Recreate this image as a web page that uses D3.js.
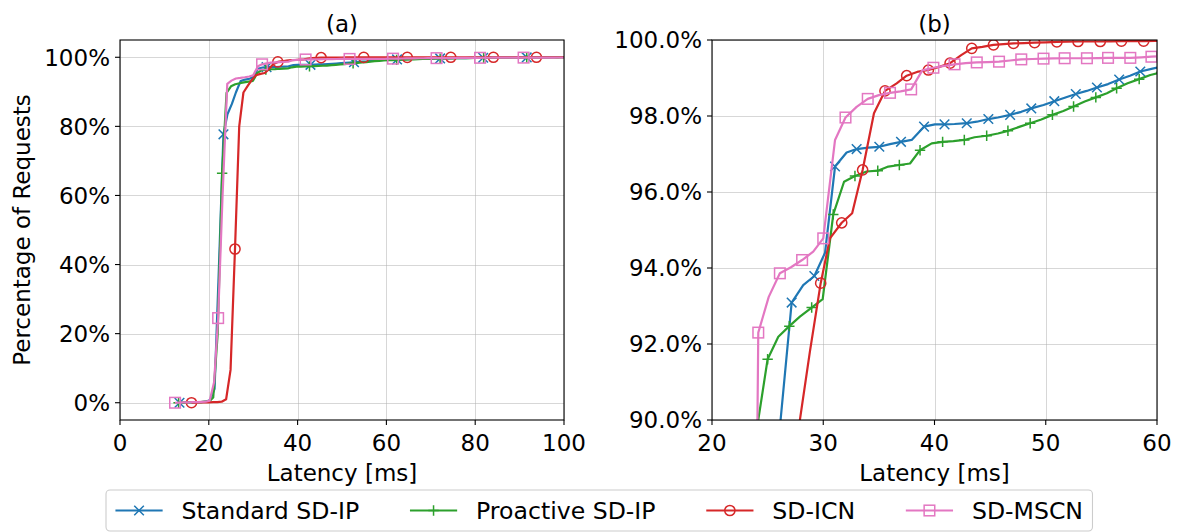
<!DOCTYPE html>
<html>
<head>
<meta charset="utf-8">
<script src="https://cdn.jsdelivr.net/npm/d3@7"></script>
<style>
  body { margin: 0; background: #fff; }
  svg { display: block; font-family: "DejaVu Sans", sans-serif; }
</style>
</head>
<body>
<svg id="chart" width="1178" height="532"></svg>
<script>
// ---- Latency CDF samples (latency in ms, cumulative share of requests in %) ----
const stdLat = [13.4,14.4,15.4,16.4,17.4,18.4,19.3,20.3,21.3,22.3,
  23.3,24.2,25.2,26.1,27.16,28.2,29.2,30.16,31.06,32.1,
  33.0,34.05,35.04,36.0,36.99,37.95,39.06,40.04,40.9,41.8,
  42.9,43.8,44.84,45.7,46.8,47.8,48.7,49.8,50.77,51.7,
  52.7,53.68,54.6,55.6,56.6,57.57,58.5,59.5,60.5,61.4,
  62.4,63.4,64.3,65.3,66.3,67.2,68.2,69.2,70.2,71.1,
  72.1,73.1,74.0,75.0,76.0,76.9,77.9,78.9,79.9,80.8,
  81.8,82.8,83.7,84.7,85.7,86.7,87.6,88.6,89.6,90.6,
  91.6,92.5,93.5,94.5,95.4,96.4,97.4,98.4,99.3,100.3];
const stdPct = [0,0.05,0.1,0.1,0.15,0.2,0.3,0.8,4.0,40.0,
  77.7,83.5,86.5,89.8,93.09,93.55,93.79,94.40,96.67,97.04,
  97.13,97.17,97.19,97.26,97.32,97.37,97.72,97.78,97.78,97.79,
  97.81,97.85,97.92,97.96,98.03,98.11,98.20,98.29,98.39,98.48,
  98.58,98.66,98.75,98.84,98.96,99.06,99.17,99.24,99.30,99.34,
  99.38,99.42,99.45,99.48,99.51,99.54,99.57,99.60,99.62,99.64,
  99.66,99.68,99.70,99.72,99.74,99.76,99.78,99.80,99.82,99.84,
  99.85,99.87,99.88,99.89,99.90,99.91,99.92,99.93,99.94,99.95,
  99.96,99.97,99.98,99.98,99.99,99.99,100,100,100,100];

const proLat = [13.2,14.2,15.2,16.1,17.1,18.1,19.1,20.1,21.0,22.0,
  23.0,24.0,25.0,25.96,26.95,27.9,28.96,29.95,30.9,31.87,
  32.85,33.9,34.9,35.85,36.84,37.8,38.7,39.75,40.73,41.7,
  42.68,43.6,44.69,45.7,46.6,47.68,48.6,49.6,50.6,51.58,
  52.5,53.5,54.5,55.5,56.37,57.36,58.4,59.4,60.4,61.3,
  62.3,63.3,64.3,65.2,66.2,67.2,68.2,69.2,70.1,71.1,
  72.1,73.1,74.0,75.0,76.0,77.0,77.9,78.9,79.9,80.9,
  81.9,82.8,83.8,84.8,85.8,86.7,87.7,88.7,89.7,90.6,
  91.6,92.6,93.6,94.6,95.5,96.5,97.5,98.5,99.4,100.4];
const proPct = [0,0.05,0.1,0.1,0.15,0.2,0.3,0.4,1.5,20.0,
  66.4,89.7,91.6,92.19,92.47,92.72,92.96,93.18,95.41,96.27,
  96.42,96.54,96.56,96.67,96.71,96.75,97.10,97.28,97.32,97.34,
  97.37,97.44,97.48,97.54,97.61,97.72,97.81,97.91,98.03,98.13,
  98.25,98.38,98.49,98.60,98.73,98.86,98.97,99.08,99.15,99.20,
  99.25,99.30,99.34,99.38,99.42,99.46,99.50,99.53,99.56,99.59,
  99.62,99.65,99.67,99.69,99.71,99.73,99.75,99.77,99.79,99.81,
  99.83,99.85,99.86,99.87,99.88,99.89,99.90,99.91,99.92,99.93,
  99.94,99.95,99.96,99.97,99.98,99.98,99.99,99.99,100,100];

const icnLat = [16.1,17.1,18.0,19.0,20.0,21.0,21.9,22.9,23.9,24.9,
  25.9,26.85,27.8,28.8,29.77,30.6,31.66,32.6,33.54,34.56,
  35.55,36.6,37.5,38.55,39.45,40.5,41.4,42.4,43.35,44.3,
  45.3,46.2,47.1,48.05,49.0,50.0,51.0,51.95,52.9,53.9,
  54.9,55.85,56.8,57.8,58.8,59.8,60.7,61.7,62.7,63.7,
  64.7,65.6,66.6,67.6,68.5,69.5,70.5,71.5,72.5,73.5,
  74.5,75.4,76.4,77.3,78.3,79.3,80.3,81.2,82.2,83.2,
  84.1,85.1,86.1,87.1,88.0,89.0,90.0,90.9,91.9,92.9,
  93.8,94.8,95.8,96.7,97.7,98.7,99.7,100.6];
const icnPct = [0,0.05,0.1,0.1,0.1,0.15,0.2,0.3,1.0,9.5,
  44.5,80.0,89.8,91.8,93.6,94.78,95.19,95.44,96.58,98.07,
  98.66,98.86,99.06,99.17,99.21,99.30,99.39,99.60,99.78,99.82,
  99.87,99.89,99.91,99.92,99.93,99.94,99.95,99.955,99.96,99.96,
  99.96,99.965,99.97,99.97,99.97,99.975,99.98,99.98,99.98,99.985,
  99.985,99.99,99.99,99.99,99.99,99.99,99.995,99.995,99.995,99.995,
  100,100,100,100,100,100,100,100,100,100,
  100,100,100,100,100,100,100,100,100,100,
  100,100,100,100,100,100,100,100];

const mscnLat = [12.4,13.4,14.4,15.3,16.3,17.3,18.3,19.3,20.2,21.2,
  22.1,23.1,24.16,25.1,26.1,27.1,28.1,29.1,30.0,31.06,
  32.0,33.0,34.0,35.0,36.0,36.95,37.9,38.9,39.9,40.85,
  41.8,42.8,43.8,44.8,45.8,46.8,47.8,48.8,49.8,50.7,
  51.7,52.7,53.7,54.7,55.6,56.6,57.6,58.6,59.5,60.5,
  61.5,62.5,63.4,64.4,65.4,66.4,67.4,68.3,69.3,70.3,
  71.3,72.3,73.2,74.2,75.2,76.2,77.1,78.1,79.1,80.1,
  81.1,82.0,83.0,84.0,85.0,86.0,86.9,87.9,88.9,89.9,
  90.9,91.9,92.8,93.8,94.8,95.8,96.7,97.7,98.7,99.95];
const mscnPct = [0,0.05,0.1,0.1,0.15,0.2,0.25,0.3,0.6,6.0,
  24.5,60.0,92.30,93.24,93.86,94.02,94.21,94.43,94.78,97.37,
  97.96,98.24,98.45,98.55,98.61,98.65,98.70,99.20,99.27,99.32,
  99.36,99.39,99.41,99.42,99.43,99.46,99.49,99.50,99.51,99.515,
  99.52,99.52,99.52,99.525,99.53,99.53,99.53,99.545,99.56,99.58,
  99.60,99.62,99.64,99.66,99.68,99.70,99.71,99.72,99.73,99.74,
  99.75,99.76,99.77,99.78,99.79,99.80,99.81,99.82,99.83,99.84,
  99.85,99.86,99.86,99.87,99.87,99.88,99.88,99.89,99.89,99.90,
  99.90,99.90,99.91,99.91,99.91,99.92,99.92,99.92,99.93,99.93];

const seriesNames = ["Standard SD-IP", "Proactive SD-IP", "SD-ICN", "SD-MSCN"];

// ---- Axis ticks ----
const xTicksA = [0, 20, 40, 60, 80, 100];
const yTicksA = [0, 20, 40, 60, 80, 100];
const xTicksB = [20, 30, 40, 50, 60];
const yTicksB = [90, 92, 94, 96, 98, 100];
const panelTitles = ["(a)", "(b)"];
const xAxisLabel = "Latency [ms]";
const yAxisLabel = "Percentage of Requests";

// ---- Styling ----
const colors = ["#1f77b4", "#2ca02c", "#d62728", "#e377c2"];
const markers = ["x", "plus", "circle", "square"];
const FS = 23;        // axis text size
const LEG_FS = 23.6;  // legend text size

const series = [
  { lat: stdLat, pct: stdPct },
  { lat: proLat, pct: proPct },
  { lat: icnLat, pct: icnPct },
  { lat: mscnLat, pct: mscnPct }
].map((s, i) => ({
  name: seriesNames[i],
  color: colors[i],
  marker: markers[i],
  points: s.lat.map((v, j) => [v, s.pct[j]])
}));

const svg = d3.select("#chart");

function drawMarker(g, kind, cx, cy, color) {
  if (kind === "circle") {
    g.append("circle").attr("cx", cx).attr("cy", cy).attr("r", 5.1)
      .attr("fill", "none").attr("stroke", color).attr("stroke-width", 1.5);
  } else if (kind === "square") {
    g.append("rect").attr("x", cx - 5.3).attr("y", cy - 5.3).attr("width", 10.6).attr("height", 10.6)
      .attr("fill", "none").attr("stroke", color).attr("stroke-width", 1.5);
  } else if (kind === "x") {
    const r = 4.8;
    g.append("path")
      .attr("d", `M${cx - r},${cy - r}L${cx + r},${cy + r}M${cx - r},${cy + r}L${cx + r},${cy - r}`)
      .attr("stroke", color).attr("stroke-width", 1.5).attr("fill", "none");
  } else if (kind === "plus") {
    const r = 5.2;
    g.append("path")
      .attr("d", `M${cx - r},${cy}H${cx + r}M${cx},${cy - r}V${cy + r}`)
      .attr("stroke", color).attr("stroke-width", 1.5).attr("fill", "none");
  }
}

const panels = [
  { id: "a", title: panelTitles[0], left: 120, right: 564, top: 40, bottom: 420,
    xDomain: [0, 100], yDomain: [-5, 105], xTicks: xTicksA, yTicks: yTicksA,
    yFmt: d => d + "%", markEvery: 10, yLabel: true },
  { id: "b", title: panelTitles[1], left: 712, right: 1157, top: 40, bottom: 420,
    xDomain: [20, 60], yDomain: [90, 100], xTicks: xTicksB, yTicks: yTicksB,
    yFmt: d => d.toFixed(1) + "%", markEvery: 2, yLabel: false }
];

panels.forEach(p => {
  const x = d3.scaleLinear().domain(p.xDomain).range([p.left, p.right]);
  const y = d3.scaleLinear().domain(p.yDomain).range([p.bottom, p.top]);
  const g = svg.append("g");

  g.append("clipPath").attr("id", "clip-" + p.id)
    .append("rect").attr("x", p.left).attr("y", p.top)
    .attr("width", p.right - p.left).attr("height", p.bottom - p.top);

  // grid
  const grid = g.append("g").attr("stroke", "#b0b0b0").attr("stroke-opacity", 0.5).attr("stroke-width", 1);
  p.xTicks.forEach(t => grid.append("line")
    .attr("x1", Math.round(x(t)) + 0.5).attr("x2", Math.round(x(t)) + 0.5)
    .attr("y1", p.top).attr("y2", p.bottom));
  p.yTicks.forEach(t => grid.append("line")
    .attr("y1", Math.round(y(t)) + 0.5).attr("y2", Math.round(y(t)) + 0.5)
    .attr("x1", p.left).attr("x2", p.right));

  // series: line first, then its markers
  const plot = g.append("g").attr("clip-path", `url(#clip-${p.id})`);
  const line = d3.line().x(d => x(d[0])).y(d => y(d[1]));
  series.forEach(s => {
    plot.append("path").datum(s.points).attr("d", line)
      .attr("fill", "none").attr("stroke", s.color).attr("stroke-width", 2.2)
      .attr("stroke-linejoin", "round");
    const mg = plot.append("g");
    s.points.forEach((d, i) => {
      if (i % p.markEvery === 0) drawMarker(mg, s.marker, x(d[0]), y(d[1]), s.color);
    });
  });

  // frame
  g.append("rect").attr("x", p.left).attr("y", p.top)
    .attr("width", p.right - p.left).attr("height", p.bottom - p.top)
    .attr("fill", "none").attr("stroke", "#000").attr("stroke-width", 1.1);

  // x ticks
  const xt = g.append("g");
  p.xTicks.forEach(t => {
    xt.append("line").attr("x1", x(t)).attr("x2", x(t))
      .attr("y1", p.bottom).attr("y2", p.bottom + 5)
      .attr("stroke", "#000").attr("stroke-width", 1.1);
    xt.append("text").attr("x", x(t)).attr("y", 451)
      .attr("text-anchor", "middle").attr("font-size", FS).attr("fill", "#000")
      .text(t);
  });
  // y ticks
  const yt = g.append("g");
  p.yTicks.forEach(t => {
    yt.append("line").attr("x1", p.left - 5).attr("x2", p.left)
      .attr("y1", y(t)).attr("y2", y(t))
      .attr("stroke", "#000").attr("stroke-width", 1.1);
    yt.append("text").attr("x", p.left - 10).attr("y", y(t) + 8.4)
      .attr("text-anchor", "end").attr("font-size", FS).attr("fill", "#000")
      .text(p.yFmt(t));
  });

  // labels
  g.append("text").attr("x", (p.left + p.right) / 2).attr("y", 481)
    .attr("text-anchor", "middle").attr("font-size", FS).text(xAxisLabel);
  g.append("text").attr("x", (p.left + p.right) / 2).attr("y", 31.5)
    .attr("text-anchor", "middle").attr("font-size", FS).text(p.title);
  if (p.yLabel) {
    g.append("text").attr("transform", `translate(29.5,${(p.top + p.bottom) / 2}) rotate(-90)`)
      .attr("text-anchor", "middle").attr("font-size", FS).text(yAxisLabel);
  }
});

// ---- Legend ----
const legLeft = 106, legTop = 490, legH = 41;
const leg = svg.append("g");
const frame = leg.append("rect").attr("x", legLeft).attr("y", legTop)
  .attr("height", legH).attr("rx", 4).attr("ry", 4)
  .attr("fill", "#fff").attr("fill-opacity", 0.8)
  .attr("stroke", "#cccccc").attr("stroke-width", 1.1);
let cx = legLeft + 0.4 * LEG_FS;
const midY = legTop + legH / 2;
series.forEach((s, i) => {
  const hl = 2 * LEG_FS;
  leg.append("line").attr("x1", cx).attr("x2", cx + hl).attr("y1", midY).attr("y2", midY)
    .attr("stroke", s.color).attr("stroke-width", 2.2);
  drawMarker(leg, s.marker, cx + hl / 2, midY, s.color);
  cx += hl + 0.8 * LEG_FS;
  const t = leg.append("text").attr("x", cx).attr("y", midY + 8.6)
    .attr("font-size", LEG_FS).attr("fill", "#000").text(s.name);
  cx += t.node().getComputedTextLength();
  if (i < series.length - 1) cx += 2.15 * LEG_FS;
});
frame.attr("width", cx + 0.4 * LEG_FS - legLeft);
</script>
</body>
</html>
